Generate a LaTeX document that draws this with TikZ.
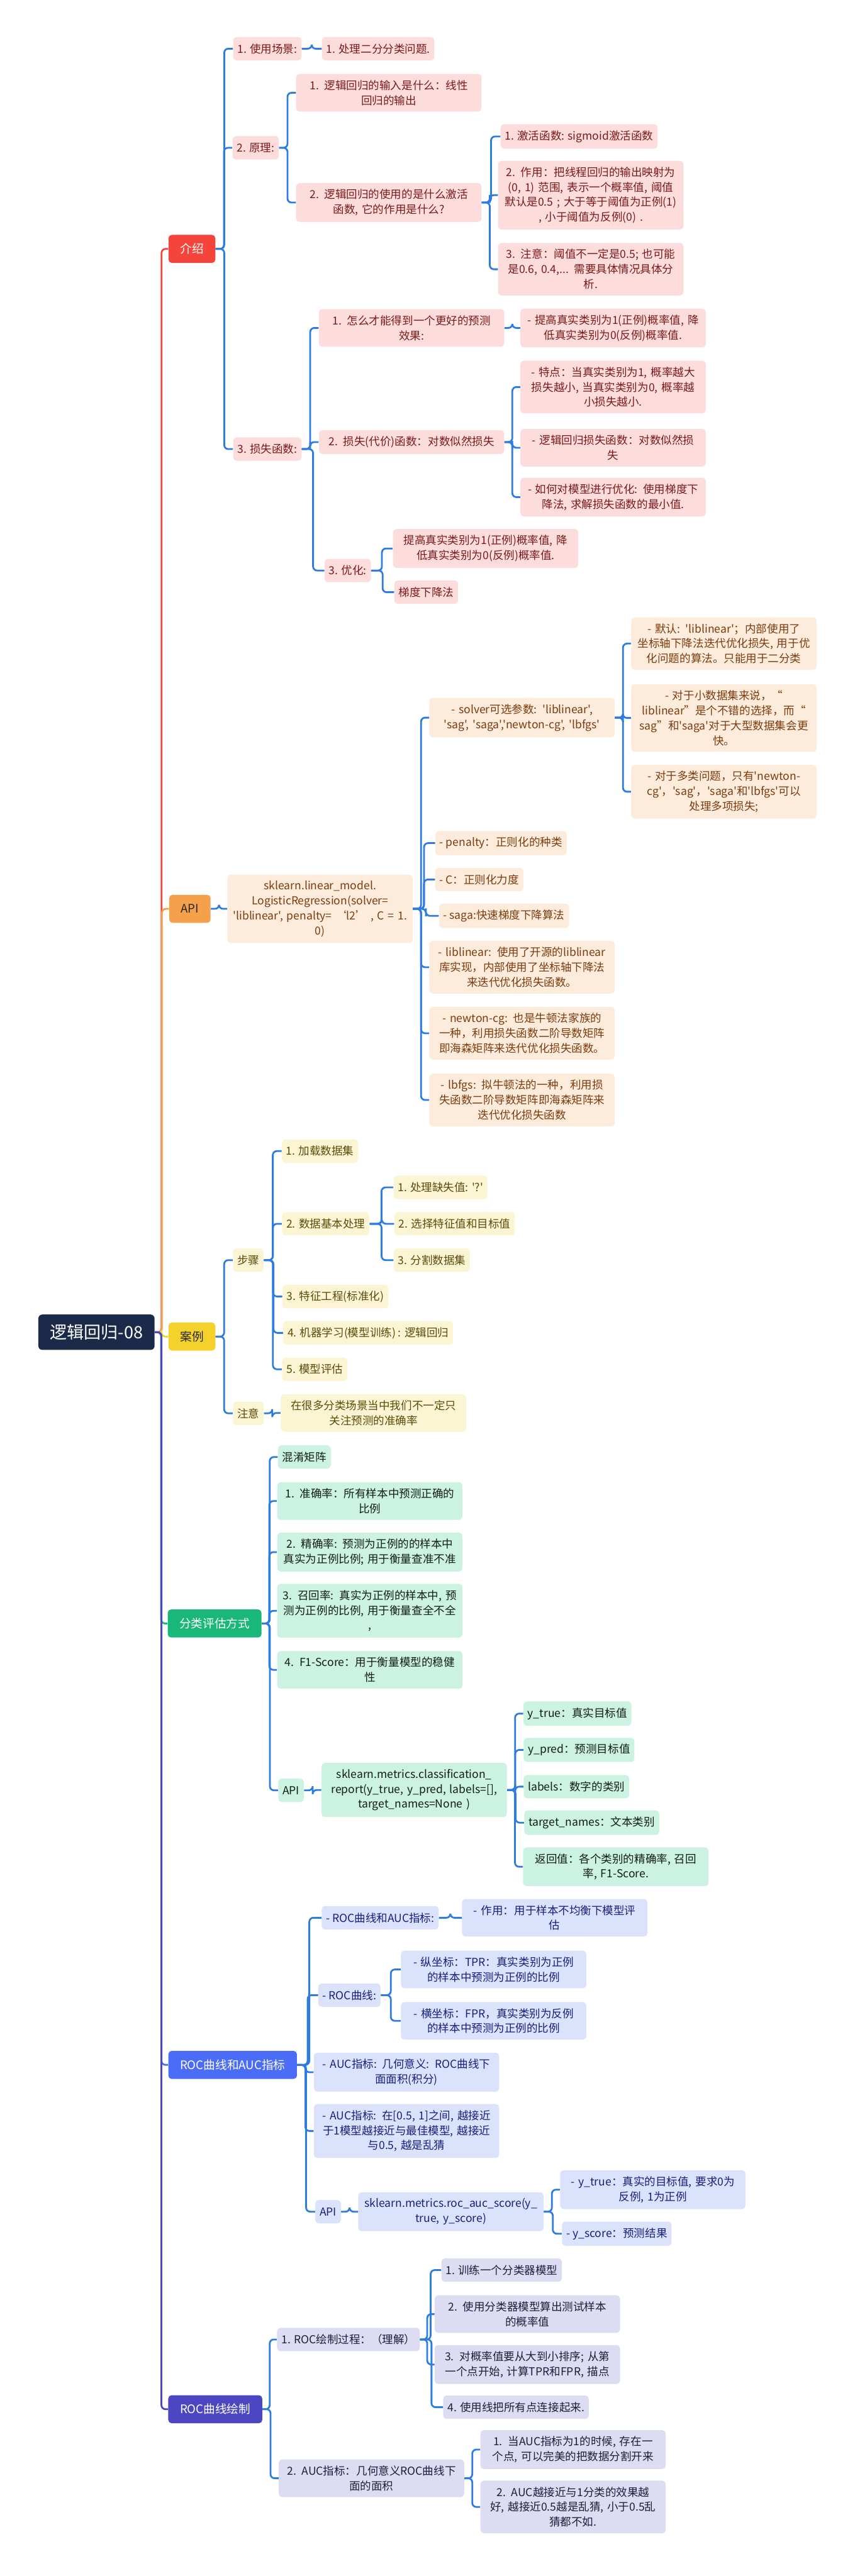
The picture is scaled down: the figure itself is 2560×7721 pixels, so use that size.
\documentclass[tikz,border=0pt]{standalone}
\usepackage{fontspec}
\newfontfamily\cjk{Noto Sans CJK SC}
\usetikzlibrary{calc}

\definecolor{edgeblue}{HTML}{2E7CE0}
\definecolor{rootnavy}{HTML}{1C2A4A}
\definecolor{introred}{HTML}{F5443B}
\definecolor{apiorange}{HTML}{F5A14C}
\definecolor{caseyellow}{HTML}{F4D22B}
\definecolor{evalgreen}{HTML}{1AB77A}
\definecolor{rocblue}{HTML}{4A6CF7}
\definecolor{drawindigo}{HTML}{4D46C2}
\definecolor{introfill}{HTML}{FDDCDC}
\definecolor{introtext}{HTML}{7A1A1A}
\definecolor{apifill}{HTML}{FDEBDB}
\definecolor{apitext}{HTML}{7A3C0E}
\definecolor{casefill}{HTML}{FCF5D4}
\definecolor{casetext}{HTML}{5A4B0A}
\definecolor{evalfill}{HTML}{CCF2E2}
\definecolor{evaltext}{HTML}{111D17}
\definecolor{rocfill}{HTML}{DAE2FC}
\definecolor{roctext}{HTML}{17207A}
\definecolor{drawfill}{HTML}{DCDCF3}
\definecolor{drawtext}{HTML}{1E1E3C}

\begin{document}
\begin{tikzpicture}[
    x=0.01cm, y=-0.01cm,
    root/.style={rectangle, rounded corners=0.12cm, fill=rootnavy, text=white, font=\cjk\fontsize{14.5}{17}\selectfont, minimum height=1.06cm, inner xsep=0.35cm},
    topic/.style={rectangle, rounded corners=0.1cm, text=white, font=\cjk\fontsize{10}{12}\selectfont, minimum height=0.84cm, inner xsep=0.35cm},
    item/.style={rectangle, rounded corners=0.1cm, align=center, font=\cjk\fontsize{9.4}{12.8}\selectfont, minimum height=0.7cm, inner xsep=0.13cm, inner ysep=0.185cm},
    wide/.style={text width=5.35cm, inner xsep=0.1cm},
    introbox/.style={item, fill=introfill, text=introtext},
    apibox/.style={item, fill=apifill, text=apitext},
    casebox/.style={item, fill=casefill, text=casetext},
    evalbox/.style={item, fill=evalfill, text=evaltext},
    rocbox/.style={item, fill=rocfill, text=roctext},
    drawbox/.style={item, fill=drawfill, text=drawtext},
    link/.style={draw=edgeblue, line width=1.5pt, rounded corners=0.12cm, to path={-| ($(\tikztostart)!0.5!(\tikztotarget)$) |- (\tikztotarget)}}
]
\useasboundingbox (0,0) rectangle (2560,7721);

% Root and main topics
\node[root] (root) at (289, 3993) {逻辑回归-08};
\node[topic, fill=introred] (intro) at (575, 746) {介绍};
\node[topic, fill=apiorange, text=black!85] (api) at (569, 2724) {API};
\node[topic, fill=caseyellow, text=black!85] (case) at (575, 4006) {案例};
\node[topic, fill=evalgreen] (eval) at (643, 4866) {分类评估方式};
\node[topic, fill=rocblue] (roc) at (697, 6189) {ROC曲线和AUC指标};
\node[topic, fill=drawindigo] (rocdraw) at (645, 7221) {ROC曲线绘制};

\draw[link, draw=introred] (root.east) to (intro.west);
\draw[link, draw=apiorange] (root.east) to (api.west);
\draw[link, draw=caseyellow] (root.east) to (case.west);
\draw[link, draw=evalgreen] (root.east) to (eval.west);
\draw[link, draw=rocblue] (root.east) to (roc.west);
\draw[link, draw=drawindigo] (root.east) to (rocdraw.west);

% 介绍
\node[introbox] (usage) at (801, 146) {1. 使用场景:};
\node[introbox] (usage1) at (1133, 146) {1. 处理二分分类问题.};
\node[introbox] (prin) at (766, 443) {2. 原理:};
\node[introbox, wide] (prin1) at (1165, 278) {1. 逻辑回归的输入是什么：线性\\回归的输出};
\node[introbox, wide] (prin2) at (1165, 607) {2. 逻辑回归的使用的是什么激活\\函数, 它的作用是什么?};
\node[introbox] (act1) at (1735, 409) {1. 激活函数: sigmoid激活函数};
\node[introbox, wide] (act2) at (1770, 585) {2. 作用：把线程回归的输出映射为\\(0, 1) 范围, 表示一个概率值, 阈值\\默认是0.5 ; 大于等于阈值为正例(1)\\, 小于阈值为反例(0) .};
\node[introbox, wide] (act3) at (1770, 807) {3. 注意：阈值不一定是0.5; 也可能\\是0.6, 0.4,... 需要具体情况具体分\\析.};
\node[introbox] (loss) at (801, 1346) {3. 损失函数:};
\node[introbox, wide] (loss1) at (1233, 983) {1. 怎么才能得到一个更好的预测\\效果:};
\node[introbox, wide] (loss1a) at (1837, 983) {- 提高真实类别为1(正例)概率值, 降\\低真实类别为0(反例)概率值.};
\node[introbox, wide] (loss2) at (1233, 1325) {2. 损失(代价)函数：对数似然损失};
\node[introbox, wide] (loss2a) at (1837, 1160) {- 特点：当真实类别为1, 概率越大\\损失越小, 当真实类别为0, 概率越\\小损失越小.};
\node[introbox, wide] (loss2b) at (1837, 1342) {- 逻辑回归损失函数：对数似然损\\失};
\node[introbox, wide] (loss2c) at (1837, 1490) {- 如何对模型进行优化: 使用梯度下\\降法, 求解损失函数的最小值.};
\node[introbox] (opt) at (1042, 1710) {3. 优化:};
\node[introbox, wide] (opt1) at (1455, 1644) {提高真实类别为1(正例)概率值, 降\\低真实类别为0(反例)概率值.};
\node[introbox] (opt2) at (1277, 1775) {梯度下降法};

\draw[link] (intro.east) to (usage.west);
\draw[link] (intro.east) to (prin.west);
\draw[link] (intro.east) to (loss.west);
\draw[link] (usage.east) to (usage1.west);
\draw[link] (prin.east) to (prin1.west);
\draw[link] (prin.east) to (prin2.west);
\draw[link] (prin2.east) to (act1.west);
\draw[link] (prin2.east) to (act2.west);
\draw[link] (prin2.east) to (act3.west);
\draw[link] (loss.east) to (loss1.west);
\draw[link] (loss.east) to (loss2.west);
\draw[link] (loss.east) to (opt.west);
\draw[link] (loss1.east) to (loss1a.west);
\draw[link] (loss2.east) to (loss2a.west);
\draw[link] (loss2.east) to (loss2b.west);
\draw[link] (loss2.east) to (loss2c.west);
\draw[link] (opt.east) to (opt1.west);
\draw[link] (opt.east) to (opt2.west);

% API
\node[apibox, wide] (lrcall) at (959, 2724) {sklearn.linear\_model.\\LogisticRegression(solver=\\'liblinear', penalty= ‘l2’ , C = 1.\\0)};
\node[apibox, wide] (solver) at (1564, 2151) {- solver可选参数: 'liblinear',\\'sag', 'saga','newton-cg', 'lbfgs'};
\node[apibox, wide] (solver1) at (2169, 1929) {- 默认: 'liblinear'；内部使用了\\坐标轴下降法迭代优化损失, 用于优\\化问题的算法。只能用于二分类};
\node[apibox, wide] (solver2) at (2169, 2152) {- 对于小数据集来说，“\\liblinear”是个不错的选择，而“\\sag”和'saga'对于大型数据集会更\\快。};
\node[apibox, wide] (solver3) at (2169, 2373) {- 对于多类问题，只有'newton-\\cg'，'sag'，'saga'和'lbfgs'可以\\处理多项损失;};
\node[apibox] (penalty) at (1501, 2527) {- penalty：正则化的种类};
\node[apibox] (cparam) at (1436, 2636) {- C：正则化力度};
\node[apibox] (saga) at (1510, 2745) {- saga:快速梯度下降算法};
\node[apibox, wide] (liblin) at (1564, 2899) {- liblinear: 使用了开源的liblinear\\库实现，内部使用了坐标轴下降法\\来迭代优化损失函数。};
\node[apibox, wide] (newton) at (1564, 3097) {- newton-cg: 也是牛顿法家族的\\一种，利用损失函数二阶导数矩阵\\即海森矩阵来迭代优化损失函数。};
\node[apibox, wide] (lbfgs) at (1564, 3297) {- lbfgs: 拟牛顿法的一种，利用损\\失函数二阶导数矩阵即海森矩阵来\\迭代优化损失函数};

\draw[link] (api.east) to (lrcall.west);
\draw[link] (lrcall.east) to (solver.west);
\draw[link] (lrcall.east) to (penalty.west);
\draw[link] (lrcall.east) to (cparam.west);
\draw[link] (lrcall.east) to (saga.west);
\draw[link] (lrcall.east) to (liblin.west);
\draw[link] (lrcall.east) to (newton.west);
\draw[link] (lrcall.east) to (lbfgs.west);
\draw[link] (solver.east) to (solver1.west);
\draw[link] (solver.east) to (solver2.west);
\draw[link] (solver.east) to (solver3.west);

% 案例
\node[casebox] (steps) at (744, 3777) {步骤};
\node[casebox] (step1) at (959, 3450) {1. 加载数据集};
\node[casebox] (step2) at (976, 3668) {2. 数据基本处理};
\node[casebox] (step2a) at (1320, 3559) {1. 处理缺失值: '?'};
\node[casebox] (step2b) at (1362, 3668) {2. 选择特征值和目标值};
\node[casebox] (step2c) at (1294, 3777) {3. 分割数据集};
\node[casebox] (step3) at (1005, 3886) {3. 特征工程(标准化)};
\node[casebox] (step4) at (1103, 3995) {4. 机器学习(模型训练) : 逻辑回归};
\node[casebox] (step5) at (943, 4104) {5. 模型评估};
\node[casebox] (note) at (744, 4236) {注意};
\node[casebox, wide] (note1) at (1119, 4235) {在很多分类场景当中我们不一定只\\关注预测的准确率};

\draw[link] (case.east) to (steps.west);
\draw[link] (case.east) to (note.west);
\draw[link] (steps.east) to (step1.west);
\draw[link] (steps.east) to (step2.west);
\draw[link] (steps.east) to (step3.west);
\draw[link] (steps.east) to (step4.west);
\draw[link] (steps.east) to (step5.west);
\draw[link] (step2.east) to (step2a.west);
\draw[link] (step2.east) to (step2b.west);
\draw[link] (step2.east) to (step2c.west);
\draw[link] (note.east) to (note1.west);

% 分类评估方式
\node[evalbox] (confmat) at (912, 4367) {混淆矩阵};
\node[evalbox, wide] (accu) at (1108, 4499) {1. 准确率：所有样本中预测正确的\\比例};
\node[evalbox, wide] (prec) at (1108, 4652) {2. 精确率: 预测为正例的的样本中\\真实为正例比例; 用于衡量查准不准};
\node[evalbox, wide] (recall) at (1108, 4828) {3. 召回率: 真实为正例的样本中, 预\\测为正例的比例, 用于衡量查全不全\\,};
\node[evalbox, wide] (fscore) at (1108, 5005) {4. F1-Score：用于衡量模型的稳健\\性};
\node[evalbox] (evalapi) at (872, 5366) {API};
\node[evalbox, wide] (report) at (1241, 5365) {sklearn.metrics.classification\_\\report(y\_true, y\_pred, labels=[],\\target\_names=None )};
\node[evalbox] (ytrue) at (1730, 5136) {y\_true：真实目标值};
\node[evalbox] (ypred) at (1735, 5245) {y\_pred：预测目标值};
\node[evalbox] (labels) at (1727, 5355) {labels：数字的类别};
\node[evalbox] (tnames) at (1773, 5463) {target\_names：文本类别};
\node[evalbox, wide] (retval) at (1845, 5595) {返回值：各个类别的精确率, 召回\\率, F1-Score.};

\draw[link] (eval.east) to (confmat.west);
\draw[link] (eval.east) to (accu.west);
\draw[link] (eval.east) to (prec.west);
\draw[link] (eval.east) to (recall.west);
\draw[link] (eval.east) to (fscore.west);
\draw[link] (eval.east) to (evalapi.west);
\draw[link] (evalapi.east) to (report.west);
\draw[link] (report.east) to (ytrue.west);
\draw[link] (report.east) to (ypred.west);
\draw[link] (report.east) to (labels.west);
\draw[link] (report.east) to (tnames.west);
\draw[link] (report.east) to (retval.west);

% ROC曲线和AUC指标
\node[rocbox] (rocauc) at (1139, 5748) {- ROC曲线和AUC指标:};
\node[rocbox, wide] (rocauc1) at (1662, 5748) {- 作用：用于样本不均衡下模型评\\估};
\node[rocbox] (roccurve) at (1047, 5980) {- ROC曲线:};
\node[rocbox, wide] (tpr) at (1479, 5903) {- 纵坐标：TPR：真实类别为正例\\的样本中预测为正例的比例};
\node[rocbox, wide] (fpr) at (1479, 6057) {- 横坐标：FPR，真实类别为反例\\的样本中预测为正例的比例};
\node[rocbox, wide] (auc1) at (1218, 6211) {- AUC指标: 几何意义: ROC曲线下\\面面积(积分)};
\node[rocbox, wide] (auc2) at (1218, 6387) {- AUC指标: 在[0.5, 1]之间, 越接近\\于1模型越接近与最佳模型, 越接近\\与0.5, 越是乱猜};
\node[rocbox] (rocapi) at (983, 6629) {API};
\node[rocbox, wide] (aucscore) at (1351, 6629) {sklearn.metrics.roc\_auc\_score(y\_\\true, y\_score)};
\node[rocbox, wide] (rytrue) at (1956, 6563) {- y\_true：真实的目标值, 要求0为\\反例, 1为正例};
\node[rocbox] (ryscore) at (1848, 6695) {- y\_score：预测结果};

\draw[link] (roc.east) to (rocauc.west);
\draw[link] (roc.east) to (roccurve.west);
\draw[link] (roc.east) to (auc1.west);
\draw[link] (roc.east) to (auc2.west);
\draw[link] (roc.east) to (rocapi.west);
\draw[link] (rocauc.east) to (rocauc1.west);
\draw[link] (roccurve.east) to (tpr.west);
\draw[link] (roccurve.east) to (fpr.west);
\draw[link] (rocapi.east) to (aucscore.west);
\draw[link] (aucscore.east) to (rytrue.west);
\draw[link] (aucscore.east) to (ryscore.west);

% ROC曲线绘制
\node[drawbox] (process) at (1044, 7012) {1. ROC绘制过程：（理解）};
\node[drawbox] (proc1) at (1503, 6804) {1. 训练一个分类器模型};
\node[drawbox, wide] (proc2) at (1580, 6936) {2. 使用分类器模型算出测试样本\\的概率值};
\node[drawbox, wide] (proc3) at (1580, 7087) {3. 对概率值要从大到小排序; 从第\\一个点开始, 计算TPR和FPR, 描点};
\node[drawbox] (proc4) at (1546, 7215) {4. 使用线把所有点连接起来.};
\node[drawbox, wide] (aucarea) at (1113, 7428) {2. AUC指标：几何意义ROC曲线下\\面的面积};
\node[drawbox, wide] (area1) at (1717, 7342) {1. 当AUC指标为1的时候, 存在一\\个点, 可以完美的把数据分割开来};
\node[drawbox, wide] (area2) at (1717, 7514) {2. AUC越接近与1分类的效果越\\好, 越接近0.5越是乱猜, 小于0.5乱\\猜都不如.};

\draw[link] (rocdraw.east) to (process.west);
\draw[link] (rocdraw.east) to (aucarea.west);
\draw[link] (process.east) to (proc1.west);
\draw[link] (process.east) to (proc2.west);
\draw[link] (process.east) to (proc3.west);
\draw[link] (process.east) to (proc4.west);
\draw[link] (aucarea.east) to (area1.west);
\draw[link] (aucarea.east) to (area2.west);

\end{tikzpicture}
\end{document}
